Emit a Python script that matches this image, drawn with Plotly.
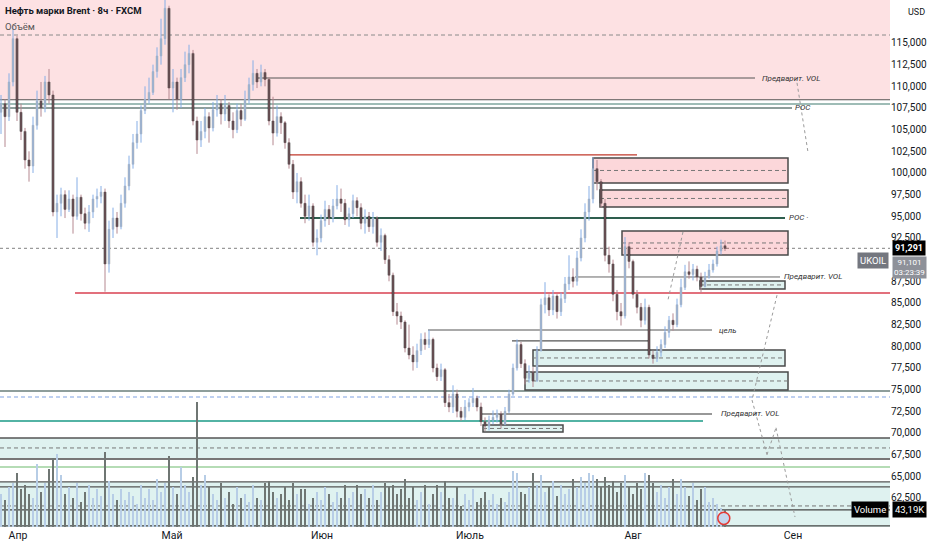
import plotly.graph_objects as go

# Brent (UKOIL) 8h candles
first_open = 107.0
closes = [108.0, 106.5, 110.5, 115.5, 107.0, 104.8, 101.5, 100.8, 105.5, 108.3,
          107.5, 110.5, 109.0, 95.5, 96.5, 97.5, 95.8, 97.0, 95.0, 97.2,
          95.3, 94.2, 95.5, 97.0, 97.3, 97.8, 89.5, 93.5, 94.8, 93.8,
          96.5, 98.5, 101.0, 103.5, 104.5, 107.2, 108.5, 109.3, 111.7, 113.5,
          115.5, 119.0, 109.8, 110.5, 108.5, 111.0, 112.5, 113.8, 106.0, 103.8,
          104.8, 106.5, 105.2, 107.3, 108.0, 106.8, 107.8, 106.0, 105.0, 107.2,
          106.2, 108.5, 110.2, 111.5, 110.5, 111.6, 110.8, 106.0, 104.6, 106.5,
          105.8, 103.5, 101.0, 97.8, 99.0, 96.5, 95.0, 96.2, 92.0, 92.5,
          94.5, 95.8, 94.8, 96.2, 97.0, 96.5, 94.6, 95.3, 96.8, 96.0,
          94.2, 95.0, 93.8, 94.8, 92.0, 92.8, 90.0, 88.2, 84.0, 83.5,
          82.8, 79.8, 79.0, 78.2, 79.5, 80.8, 80.2, 80.8, 77.5, 76.5,
          77.3, 73.5, 73.0, 74.5, 72.5, 71.8, 73.0, 73.5, 74.0, 73.0,
          71.3, 70.8, 71.5, 71.8, 72.2, 71.0, 72.5, 74.5, 77.5, 80.2,
          78.0, 76.3, 77.0, 76.0, 79.5, 84.8, 85.6, 84.2, 85.8, 84.0,
          85.5, 87.2, 88.0, 87.5, 90.2, 92.5, 95.5, 97.0, 100.5, 99.0,
          96.5, 90.5, 89.5, 86.0, 84.0, 83.5, 91.5, 89.8, 86.0, 84.5,
          83.0, 84.5, 79.0, 78.6, 79.3, 80.2, 81.6, 83.0, 82.5, 84.8,
          86.8, 88.6, 88.3, 88.9, 88.0, 86.9, 88.0, 88.8, 89.5, 91.0,
          91.6, 91.291]
highs = [109.0, 108.5, 111.5, 116.8, 115.8, 108.0, 105.2, 102.5, 106.5, 109.5,
         110.5, 111.2, 112.0, 109.5, 97.5, 98.3, 98.0, 98.0, 97.5, 99.5,
         97.5, 96.0, 96.3, 97.5, 98.2, 98.5, 98.2, 94.5, 96.0, 95.5,
         97.5, 99.5, 102.0, 104.5, 106.0, 107.8, 110.0, 111.0, 112.5, 114.5,
         117.8, 120.5, 119.3, 112.0, 111.0, 112.0, 114.0, 114.8, 114.2, 106.5,
         106.0, 107.5, 107.0, 108.2, 109.0, 108.5, 109.0, 108.2, 107.0, 108.0,
         108.0, 109.5, 111.0, 113.0, 112.0, 112.5, 112.0, 111.0, 108.8, 107.8,
         107.0, 106.0, 104.0, 101.5, 100.0, 99.5, 97.5, 97.5, 96.5, 93.5,
         95.2, 96.8, 96.3, 97.0, 98.6, 98.2, 97.0, 96.0, 97.5, 97.2,
         96.5, 95.8, 95.5, 95.5, 95.0, 93.6, 93.0, 90.5, 88.5, 85.0,
         84.0, 83.0, 82.5, 80.0, 80.3, 81.5, 81.6, 81.9, 81.0, 78.0,
         78.0, 77.5, 74.5, 75.5, 75.0, 73.0, 73.8, 74.0, 75.2, 74.3,
         73.5, 71.8, 72.0, 72.6, 72.7, 72.5, 73.0, 75.0, 78.0, 80.8,
         80.5, 78.5, 77.8, 77.6, 80.0, 85.5, 87.4, 86.0, 86.5, 86.0,
         86.2, 88.0, 90.5, 89.0, 91.0, 93.5, 96.5, 98.5, 101.8, 101.5,
         99.3, 97.0, 91.5, 90.0, 86.5, 85.0, 92.6, 92.0, 90.0, 86.5,
         85.0, 85.5, 84.8, 79.5, 80.0, 80.8, 82.3, 83.5, 83.8, 85.5,
         87.8, 89.4, 89.8, 89.5, 89.3, 88.5, 88.6, 89.5, 90.0, 91.5,
         92.3, 92.2]
lows = [104.5, 103.0, 106.0, 110.0, 106.0, 103.8, 100.5, 99.0, 100.0, 105.0,
        106.5, 107.0, 108.0, 95.0, 92.5, 95.0, 94.8, 95.5, 93.0, 94.6,
        94.5, 93.5, 93.2, 94.8, 96.0, 96.5, 86.3, 88.5, 92.5, 93.0,
        93.5, 96.0, 98.0, 100.5, 102.8, 103.5, 106.8, 108.0, 109.0, 111.0,
        112.5, 114.8, 108.5, 107.0, 107.3, 107.5, 110.5, 111.5, 105.5, 102.2,
        103.0, 104.0, 103.5, 104.8, 106.5, 105.6, 106.0, 105.2, 104.0, 104.6,
        105.4, 106.0, 108.0, 109.5, 109.8, 110.0, 110.0, 105.5, 103.2, 104.2,
        104.5, 102.8, 100.5, 97.0, 96.5, 96.0, 94.2, 94.5, 91.5, 90.5,
        92.0, 93.8, 94.0, 94.3, 95.8, 95.5, 94.0, 93.8, 94.8, 95.0,
        93.5, 93.0, 93.2, 93.0, 91.5, 91.0, 89.5, 87.5, 83.5, 82.5,
        82.0, 79.3, 78.5, 77.2, 77.5, 79.0, 79.6, 79.8, 77.0, 76.0,
        76.0, 73.0, 72.4, 72.3, 71.8, 71.4, 71.5, 72.5, 73.0, 72.5,
        70.8, 70.2, 70.3, 71.0, 71.2, 70.5, 70.9, 72.3, 74.3, 77.2,
        77.5, 75.6, 75.8, 75.3, 75.9, 79.4, 83.8, 83.5, 83.6, 83.2,
        83.5, 85.0, 86.5, 86.8, 87.0, 89.8, 92.0, 94.5, 96.5, 98.0,
        96.0, 89.8, 88.5, 85.2, 83.0, 82.4, 83.2, 89.0, 85.5, 83.8,
        82.2, 82.5, 78.6, 78.0, 78.2, 78.8, 79.8, 81.0, 81.8, 82.2,
        84.5, 86.5, 87.8, 87.6, 87.5, 86.2, 86.8, 87.8, 88.5, 89.2,
        90.6, 91.0]
volumes_k = [80, 65, 95, 105, 130, 90, 100, 80, 70, 150,
             85, 105, 140, 165, 175, 125, 80, 95, 70, 105,
             60, 85, 100, 70, 90, 75, 180, 110, 80, 65,
             90, 65, 85, 75, 55, 100, 70, 90, 65, 115,
             85, 105, 170, 95, 80, 145, 100, 85, 120, 300,
             100, 125, 95, 80, 65, 105, 70, 85, 55, 95,
             70, 80, 60, 100, 70, 65, 105, 110, 85, 70,
             80, 95, 65, 105, 80, 90, 90, 55, 70, 85,
             65, 95, 80, 60, 85, 70, 100, 70, 85, 100,
             80, 90, 70, 100, 65, 85, 105, 95, 100, 80,
             90, 115, 70, 95, 65, 85, 100, 55, 80, 100,
             85, 110, 70, 70, 95, 50, 80, 65, 90, 60,
             70, 85, 65, 80, 55, 70, 60, 85, 135, 130,
             85, 80, 95, 130, 100, 125, 85, 95, 110, 75,
             100, 80, 90, 115, 95, 120, 105, 130, 125, 115,
             95, 120, 100, 110, 85, 105, 125, 95, 80, 105,
             90, 130, 125, 105, 85, 100, 70, 95, 115, 80,
             115, 95, 75, 105, 65, 90, 95, 60, 70, 55,
             45, 43.19]

month_names = ["Апр", "Май", "Июн", "Июль", "Авг", "Сен"]
month_bars = [4.25, 42.75, 80.25, 117.25, 158, 198]
# 90,000 sits under the live-price tags, so it is not labelled
price_ticks = [62.5, 65, 67.5, 70, 72.5, 75, 77.5, 80, 82.5, 85, 87.5,
               92.5, 95, 97.5, 100, 102.5, 105, 107.5, 110, 112.5, 115]
last_price = 91.291
bid_price = 91.101

opens = [first_open] + closes[:-1]
bars = list(range(len(closes)))
is_up = [c >= o for o, c in zip(opens, closes)]

# wicks
wx_up, wy_up, wx_dn, wy_dn = [], [], [], []
for i, o, c, h, l in zip(bars, opens, closes, highs, lows):
    if c >= o:
        wx_up += [i, i, None]; wy_up += [l, h, None]
    else:
        wx_dn += [i, i, None]; wy_dn += [l, h, None]

fig = go.Figure()

fig.add_trace(go.Bar(x=bars, y=volumes_k, yaxis="y2", width=0.35,
                     marker=dict(color=["#b7cde6" if u else "#6f7673" for u in is_up], line_width=0)))
fig.add_trace(go.Scatter(x=wx_up, y=wy_up, mode="lines", line=dict(color="#86aee6", width=1), hoverinfo="skip"))
fig.add_trace(go.Scatter(x=wx_dn, y=wy_dn, mode="lines", line=dict(color="#b58890", width=1), hoverinfo="skip"))
fig.add_trace(go.Candlestick(x=bars, open=opens, close=closes,
                             high=[max(o, c) for o, c in zip(opens, closes)],
                             low=[min(o, c) for o, c in zip(opens, closes)],
                             whiskerwidth=0,
                             increasing=dict(fillcolor="#b5b5b5", line=dict(color="#b5b5b5", width=0.5)),
                             decreasing=dict(fillcolor="#111111", line=dict(color="#111111", width=0.5))))

shapes = []
short_dash = "4px,3px"


def hline(y, color, width=1, dash="solid", x0=None, x1=None):
    if x0 is None:
        shapes.append(dict(type="line", xref="paper", x0=0, x1=1, yref="y", y0=y, y1=y,
                           line=dict(color=color, width=width, dash=dash), layer="below"))
    else:
        shapes.append(dict(type="line", xref="x", x0=x0, x1=x1, yref="y", y0=y, y1=y,
                           line=dict(color=color, width=width, dash=dash), layer="below"))


def box(x0, x1, top, bottom, fill):
    shapes.append(dict(type="rect", xref="x", x0=x0, x1=x1, yref="y", y0=bottom, y1=top,
                       fillcolor=fill, line=dict(color="#4a4a4a", width=1.5), layer="below"))
    hline((top + bottom) / 2, "#777", 1, short_dash, x0, x1)


pink = "rgba(242,54,69,0.15)"
teal = "rgba(38,166,154,0.15)"

# full-width zones
shapes.append(dict(type="rect", xref="paper", x0=0, x1=1, yref="y", y0=108.42, y1=125,
                   fillcolor=pink, line_width=0, layer="below"))
shapes.append(dict(type="rect", xref="paper", x0=0, x1=1, yref="y", y0=67.0, y1=69.42,
                   fillcolor=teal, line_width=0, layer="below"))
shapes.append(dict(type="rect", xref="paper", x0=0, x1=1, yref="y", y0=55, y1=64.35,
                   fillcolor=teal, line_width=0, layer="below"))

hline(115.92, "#8a8a8a", 1, short_dash)
hline(108.45, "#555555", 1.2)
hline(107.96, "#3f7a6e", 1.2)
hline(107.5, "#8e9e9b", 2, x0=-1, x1=197.75)
hline(110.96, "#555555", 1, x0=64.25, x1=188.5)
hline(102.08, "#c0392b", 1.2, x0=72.25, x1=159)
box(148, 196.75, 101.73, 98.85, "rgba(242,54,69,0.2)")
box(149.75, 196.75, 98.04, 96.08, "rgba(242,54,69,0.2)")
hline(94.81, "#2e5e4e", 2, x0=74.75, x1=196)
box(155.25, 196.75, 93.31, 90.54, "rgba(242,54,69,0.2)")
hline(last_price, "#9a9a9a", 1.2, "dot")
hline(88.0, "#666666", 1, x0=143.5, x1=194.75)
box(174.75, 196, 87.54, 86.62, teal)
hline(86.15, "#d94050", 1.5, x0=18.5, x1=230)
hline(81.88, "#555555", 1, x0=106.75, x1=177.75)
hline(80.62, "#555555", 1.2, x0=127.75, x1=162.25)
box(133, 196, 79.58, 77.73, teal)
box(131, 196.75, 77.04, 74.96, teal)
hline(74.85, "#8e9e9b", 2)
hline(74.15, "#7ea1e2", 1.2, short_dash)
hline(72.19, "#333333", 1.2, x0=119.75, x1=177.75)
hline(71.39, "#1a9a86", 1.5, x0=-1, x1=175.5)
box(120.5, 140.5, 70.92, 70.12, teal)
hline(69.42, "#555555", 1.5)
hline(68.27, "#777777", 1, short_dash)
hline(67.0, "#777777", 2)
hline(66.08, "#b5dcb5", 2)
hline(64.35, "#555555", 1.2)
hline(63.77, "#555555", 1.2)
hline(61.58, "#777777", 1, short_dash)
hline(61.12, "#444444", 1.2)
hline(59.27, "#444444", 1.2)

# dotted projection paths
projection = [[(199, 110.4), (201.75, 102.4)],
              [(170.5, 93.2), (166.75, 85.35)],
              [(194, 85.9), (187.75, 73.8), (191.5, 67.5), (193.75, 70.6), (198.5, 60.3)]]
for path in projection:
    for (xa, ya), (xb, yb) in zip(path[:-1], path[1:]):
        shapes.append(dict(type="line", xref="x", yref="y", x0=xa, y0=ya, x1=xb, y1=yb,
                           line=dict(color="#9a9a9a", width=1, dash="dot")))

shapes.append(dict(type="circle", xref="x", yref="y", x0=179.2, x1=182.2, y0=59.45, y1=60.85,
                   fillcolor="#c5d6ee", line=dict(color="#e53935", width=1.5)))

ann = []


def label(x, y, text):
    ann.append(dict(x=x, y=y, xref="x", yref="y", text="<i>" + text + "</i>", showarrow=False,
                    xanchor="left", yanchor="middle", font=dict(size=8, color="#333")))


label(189.75, 110.96, "Предварит. VOL")
label(197.9, 107.55, "POC")
label(196.4, 94.85, "POC ·")
label(195.2, 88.0, "Предварит. VOL")
label(179.0, 81.88, "цель")
label(179.5, 72.19, "Предварит. VOL")

ann.append(dict(x=0, y=1, xref="paper", yref="paper", xanchor="left", yanchor="top", xshift=3, yshift=-3,
                text="<b>Нефть марки Brent · 8ч · FXCM</b>", showarrow=False,
                font=dict(size=9.5, color="#131722")))
ann.append(dict(x=0, y=1, xref="paper", yref="paper", xanchor="left", yanchor="top", xshift=3, yshift=-19,
                text="Объём", showarrow=False, font=dict(size=9.5, color="#555")))
ann.append(dict(x=1, y=1, xref="paper", yref="paper", xanchor="left", yanchor="top", xshift=16, yshift=-5,
                text="USD", showarrow=False, font=dict(size=9, color="#131722")))


def tag(y, text, bg, side="left", size=9.5, pad=2):
    ann.append(dict(x=1, y=y, xref="paper", yref="y", xanchor=side, yanchor="middle",
                    xshift=2 if side == "left" else -1, text=text, showarrow=False, bgcolor=bg,
                    borderpad=pad, font=dict(size=size, color="white")))


tag(last_price, "<b>" + f"{last_price:.3f}".replace(".", ",") + "</b>", "#000000", size=9)
tag(89.15, f"{bid_price:.3f}".replace(".", ",") + "<br>03:23:39", "#8e9199", size=8, pad=1)
tag(89.95, "UKOIL", "#74777f", side="right")
tag(61.2, "43,19K", "#000000")
tag(61.2, "Volume", "#000000", side="right")

fig.update_layout(
    width=932, height=550, margin=dict(l=0, r=42, t=0, b=23),
    paper_bgcolor="white", plot_bgcolor="white", showlegend=False,
    font=dict(family="Roboto", color="#131722"),
    shapes=shapes, annotations=ann, bargap=0,
    xaxis=dict(range=[-0.25, 222.25], tickvals=month_bars, ticktext=month_names,
               showgrid=False, zeroline=False, ticks="", rangeslider=dict(visible=False),
               tickfont=dict(size=10.5, color="#131722"), fixedrange=True),
    yaxis=dict(side="right", range=[59.15, 119.96], tickvals=price_ticks,
               ticktext=[f"{v:.3f}".replace(".", ",") for v in price_ticks],
               showgrid=False, zeroline=False, ticks="", tickfont=dict(size=10, color="#131722")),
    yaxis2=dict(overlaying="y", range=[0, 1264], visible=False),
)

# the page's default 8px body margin would push the chart off the window
fig.write_html("out.html", config={"displayModeBar": False},
               post_script="document.body.style.margin='0';")
